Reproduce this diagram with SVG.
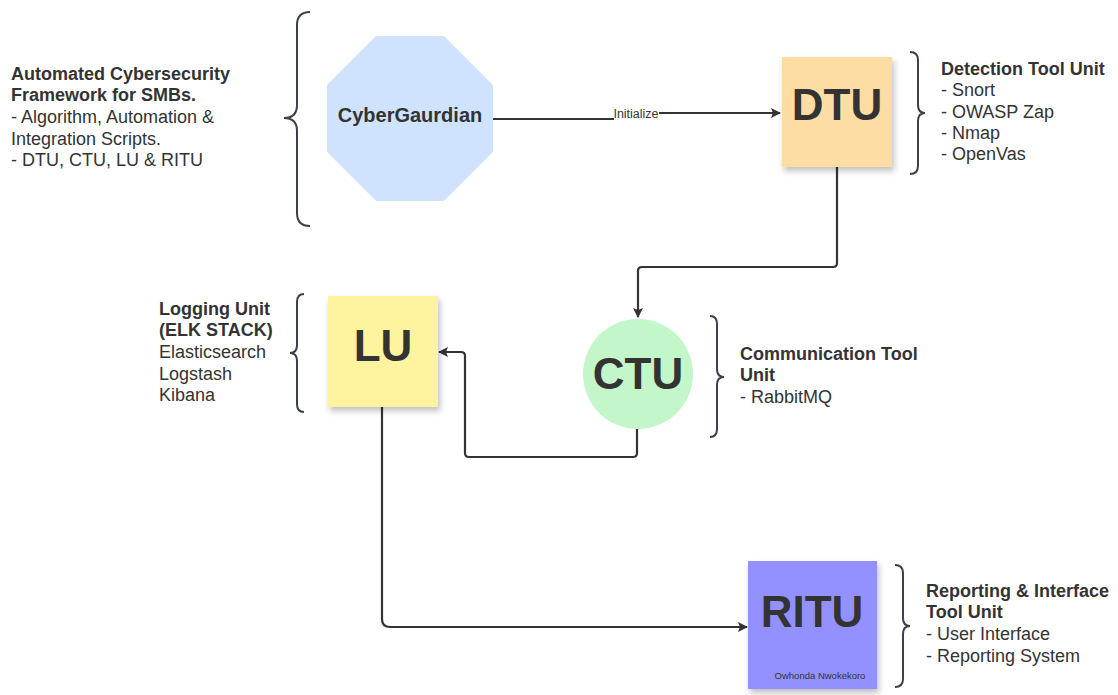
<svg xmlns="http://www.w3.org/2000/svg" width="1118" height="695" viewBox="0 0 1118 695">
<style>
text{font-family:"Liberation Sans",Arial,sans-serif;fill:#333}
.t{font-size:18px}
.b{font-weight:bold}
.big{font-size:44px;font-weight:bold;text-anchor:middle}
.brace{fill:none;stroke:#3a414a;stroke-width:2}
.conn{fill:none;stroke:#333;stroke-width:2.2}
</style>
<defs>
<marker id="ah" markerWidth="10" markerHeight="10" refX="9" refY="5" orient="auto" markerUnits="userSpaceOnUse"><path d="M0 0 L10 5 L0 10 L2 5 z" fill="#333"/></marker>
<filter id="sh" x="-10%" y="-10%" width="130%" height="130%"><feDropShadow dx="2" dy="4" stdDeviation="3" flood-color="#000" flood-opacity="0.25"/></filter>
</defs>
<rect width="1118" height="695" fill="#fff"/>
<g id="connectors">
<path class="conn" d="M491 119 H636 V113 H780" marker-end="url(#ah)"/>
<rect x="614" y="106" width="45" height="14" fill="#fff"/>
<text x="636" y="118" font-size="12.5" text-anchor="middle">Initialize</text>
<path class="conn" d="M837 167 V263 Q837 267 833 267 H642 Q638 267 638 271 V317" marker-end="url(#ah)"/>
<path class="conn" d="M637 429 V453 Q637 457 633 457 H469 Q465 457 465 453 V356 Q465 352 461 352 H439" marker-end="url(#ah)"/>
<path class="conn" d="M382 407 V619 Q382 627 390 627 H747" marker-end="url(#ah)"/>
</g>
<g id="framework">
<path class="brace" d="M310 12 Q297 12 297 25 V105 Q297 118 284 118 Q297 118 297 131 V213 Q297 226 310 226"/>
<text class="t b" x="11" y="80">Automated Cybersecurity</text>
<text class="t b" x="11" y="101">Framework for SMBs.</text>
<text class="t" x="11" y="123">- Algorithm, Automation &amp;</text>
<text class="t" x="11" y="145">Integration Scripts.</text>
<text class="t" x="11" y="166">- DTU, CTU, LU &amp; RITU</text>
</g>
<g id="cybergaurdian">
<path d="M377 38 H443 L491 86 V151 L443 199 H377 L329 151 V86 Z" fill="#cfe3ff" stroke="#cfe3ff" stroke-width="4" stroke-linejoin="round"/>
<text x="410" y="122" font-size="20" font-weight="bold" text-anchor="middle">CyberGaurdian</text>
</g>
<g id="dtu">
<rect x="782" y="57" width="110" height="110" fill="#fddda3" filter="url(#sh)"/>
<text class="big" x="837" y="120">DTU</text>
<path class="brace" d="M910 52 Q918 52 918 60 V105 Q918 113 925 113 Q918 113 918 121 V166 Q918 174 910 174"/>
<text class="t b" x="941" y="75">Detection Tool Unit</text>
<text class="t" x="941" y="96">- Snort</text>
<text class="t" x="941" y="118">- OWASP Zap</text>
<text class="t" x="941" y="139">- Nmap</text>
<text class="t" x="941" y="160">- OpenVas</text>
</g>
<g id="ctu">
<circle cx="638" cy="374" r="55" fill="#c3f7c9"/>
<text class="big" x="638" y="389">CTU</text>
<path class="brace" d="M710 316 Q717 316 717 324 V369 Q717 377 724 377 Q717 377 717 385 V429 Q717 437 710 437"/>
<text class="t b" x="740" y="360">Communication Tool</text>
<text class="t b" x="740" y="381">Unit</text>
<text class="t" x="740" y="403">- RabbitMQ</text>
</g>
<g id="lu">
<rect x="328" y="296" width="110" height="111" fill="#fef4a0" filter="url(#sh)"/>
<text class="big" x="383" y="361">LU</text>
<path class="brace" d="M304 294 Q297 294 297 302 V345 Q297 353 290 353 Q297 353 297 361 V404 Q297 412 304 412"/>
<text class="t b" x="159" y="315">Logging Unit</text>
<text class="t b" x="159" y="336">(ELK STACK)</text>
<text class="t" x="159" y="358">Elasticsearch</text>
<text class="t" x="159" y="380">Logstash</text>
<text class="t" x="159" y="401">Kibana</text>
</g>
<g id="ritu">
<rect x="748" y="561" width="129" height="128" fill="#9391ff" filter="url(#sh)"/>
<text class="big" x="812" y="627">RITU</text>
<text x="820" y="679" font-size="9.5" text-anchor="middle">Owhonda Nwokekoro</text>
<path class="brace" d="M895 565 Q903 565 903 573 V618 Q903 626 910 626 Q903 626 903 634 V679 Q903 687 895 687"/>
<text class="t b" x="926" y="597">Reporting &amp; Interface</text>
<text class="t b" x="926" y="618">Tool Unit</text>
<text class="t" x="926" y="640">- User Interface</text>
<text class="t" x="926" y="662">- Reporting System</text>
</g>
</svg>
